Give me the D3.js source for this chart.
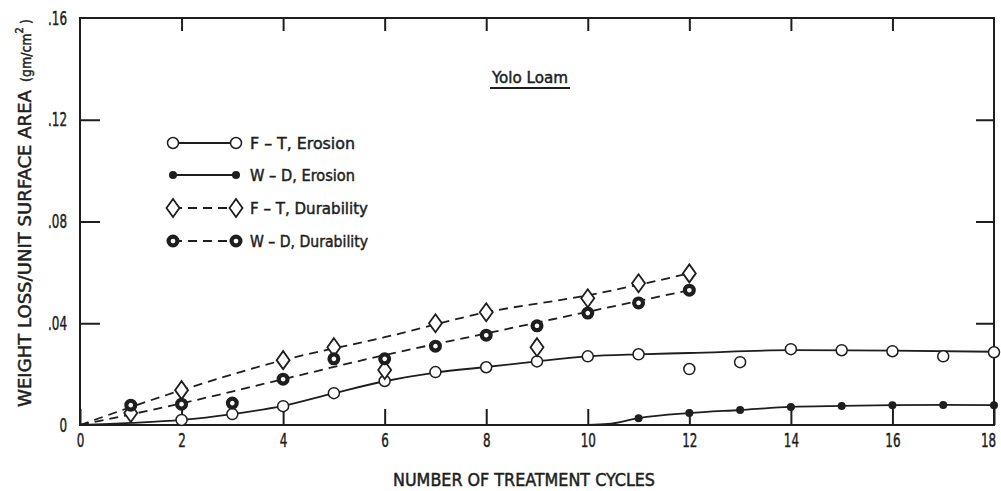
<!DOCTYPE html>
<html>
<head>
<meta charset="utf-8">
<script src="https://cdn.jsdelivr.net/npm/d3@7"></script>
<style>
  body { margin: 0; background: #fff; }
  text { font-family: "DejaVu Sans Condensed", "DejaVu Sans", sans-serif; font-stretch: condensed; fill: #1e1e1e; stroke: #1e1e1e; stroke-width: 0.45px; }
</style>
</head>
<body>
<div id="chart"></div>
<script>
// values
const ftErosionX = [2, 3, 4, 5, 6, 7, 8, 9, 10, 11, 12, 13, 14, 15, 16, 17, 18]
const ftErosion = [0.002, 0.0043, 0.0074, 0.0125, 0.0173, 0.0208, 0.0227, 0.025, 0.027, 0.0278, 0.022, 0.0247, 0.0298, 0.0294, 0.029, 0.027, 0.0286]
// smooth curve drawn through them
const ftErosionFitX = [0, 1, 2, 3, 4, 5, 6, 7, 8, 9, 10, 11, 12, 14, 16, 18]
const ftErosionFit = [0, 0.0008, 0.002, 0.0043, 0.0075, 0.0125, 0.0172, 0.0206, 0.0228, 0.025, 0.027, 0.0278, 0.0283, 0.0294, 0.0292, 0.0288]

const wdErosionX = [11, 12, 13, 14, 15, 16, 17, 18]
const wdErosion = [0.0027, 0.0047, 0.0059, 0.0071, 0.0075, 0.0078, 0.0079, 0.0078]
const wdErosionFitX = [10, 10.4, 11, 12, 13, 14, 15, 16, 17, 18]
const wdErosionFit = [0, 0.0004, 0.0027, 0.0047, 0.0059, 0.0071, 0.0075, 0.0078, 0.0079, 0.0078]

const ftDurabilityX = [1, 2, 4, 5, 6, 7, 8, 9, 10, 11, 12]
const ftDurability = [0.0047, 0.0137, 0.0255, 0.0306, 0.0216, 0.040, 0.0443, 0.0306, 0.0498, 0.0557, 0.0596]
const ftDurabilityFitX = [0, 2, 4, 6, 8, 10, 12]
const ftDurabilityFit = [0, 0.0137, 0.0255, 0.0345, 0.0443, 0.051, 0.0596]

const wdDurabilityX = [1, 2, 3, 4, 5, 6, 7, 8, 9, 10, 11, 12]
const wdDurability = [0.0078, 0.0082, 0.0086, 0.018, 0.026, 0.026, 0.031, 0.0353, 0.039, 0.044, 0.048, 0.053]
const wdDurabilityFitX = [0, 2, 4, 6, 8, 10, 12]
const wdDurabilityFit = [0, 0.0085, 0.018, 0.0275, 0.036, 0.0445, 0.053]

const xTicks = [0, 2, 4, 6, 8, 10, 12, 14, 16, 18]
const yTicks = [0, 0.04, 0.08, 0.12, 0.16]
const yTickLabels = ["0", ".04", ".08", ".12", ".16"]
const legendLabels = ["F \u2013 T,  Erosion", "W \u2013 D,  Erosion", "F \u2013 T,  Durability", "W \u2013 D,  Durability"]

const W = 1001, H = 491
const LEFT = 80, RIGHT = 994, TOP = 18, BOTTOM = 425
const INK = "#1e1e1e"

const svg = d3.select("#chart").append("svg")
  .attr("width", W).attr("height", H)

svg.append("rect").attr("width", W).attr("height", H).attr("fill", "#fff")

const x = d3.scaleLinear().domain([0, 18]).range([LEFT, RIGHT])
const y = d3.scaleLinear().domain([0, 0.16]).range([BOTTOM, TOP])

// axes, ticks pointing inward
function styleAxis(g) {
  g.select(".domain").remove()
  g.selectAll(".tick line").attr("stroke", INK).attr("stroke-width", 2)
}

// narrow tick digits like the original lettering
svg.append("g").attr("transform", `translate(0,${BOTTOM})`)
  .call(d3.axisBottom(x).tickValues(xTicks).tickSize(-16).tickPadding(9).tickFormat(d3.format("d")))
  .call(styleAxis)
  .call(g => g.selectAll("text").attr("font-size", 19).attr("fill", INK)
    .attr("transform", d => `translate(${d === 18 ? -6 : 0},0) scale(0.7,1)`))

svg.append("g").attr("transform", `translate(0,${TOP})`)
  .call(d3.axisTop(x).tickValues(xTicks.slice(1, -1)).tickSize(-13).tickFormat(""))
  .call(styleAxis)

svg.append("g").attr("transform", `translate(${LEFT},0)`)
  .call(d3.axisLeft(y).tickValues(yTicks).tickSize(-20).tickPadding(14).tickFormat((d, i) => yTickLabels[i]))
  .call(styleAxis)
  .call(g => g.selectAll("text").attr("font-size", 19).attr("fill", INK)
    .attr("x", 0).attr("transform", "translate(-13,0) scale(0.7,1)"))
  .call(g => g.selectAll(".tick").filter(d => d === 0 || d === 0.16).select("line").remove())

svg.append("g").attr("transform", `translate(${RIGHT},0)`)
  .call(d3.axisRight(y).tickValues(yTicks.slice(1, -1)).tickSize(-18).tickFormat(""))
  .call(styleAxis)

// frame
svg.append("rect")
  .attr("x", LEFT).attr("y", TOP)
  .attr("width", RIGHT - LEFT).attr("height", BOTTOM - TOP)
  .attr("fill", "none").attr("stroke", INK).attr("stroke-width", 2)

// axis titles
svg.append("text")
  .attr("x", 524).attr("y", 486)
  .attr("text-anchor", "middle")
  .attr("font-size", 17)
  .attr("textLength", 262).attr("lengthAdjust", "spacingAndGlyphs")
  .text("NUMBER OF TREATMENT CYCLES")

const yTitle = svg.append("text")
  .attr("transform", "translate(31,407) rotate(-90)")
  .attr("font-size", 17)
yTitle.append("tspan").text("WEIGHT LOSS/UNIT SURFACE AREA")
  .attr("textLength", 317).attr("lengthAdjust", "spacingAndGlyphs")
yTitle.append("tspan").text("(gm/cm").attr("font-size", 14).attr("dx", 8)
yTitle.append("tspan").text("2").attr("font-size", 11).attr("dy", -8)
yTitle.append("tspan").text(")").attr("font-size", 14).attr("dy", 8).attr("dx", 3)

// title
svg.append("text")
  .attr("x", 530).attr("y", 83)
  .attr("text-anchor", "middle")
  .attr("font-size", 16)
  .attr("textLength", 76).attr("lengthAdjust", "spacingAndGlyphs")
  .text("Yolo Loam")
svg.append("line")
  .attr("x1", 490).attr("x2", 570).attr("y1", 88).attr("y2", 88)
  .attr("stroke", INK).attr("stroke-width", 2)

// lines
const toPts = (xs, ys) => xs.map((d, i) => [d, ys[i]])
const line = d3.line().x(d => x(d[0])).y(d => y(d[1])).curve(d3.curveMonotoneX)

const plot = svg.append("g")

plot.append("path").datum(toPts(ftErosionFitX, ftErosionFit))
  .attr("d", line).attr("fill", "none").attr("stroke", INK).attr("stroke-width", 1.8)
plot.append("path").datum(toPts(wdErosionFitX, wdErosionFit))
  .attr("d", line).attr("fill", "none").attr("stroke", INK).attr("stroke-width", 1.8)
plot.append("path").datum(toPts(ftDurabilityFitX, ftDurabilityFit))
  .attr("d", line).attr("fill", "none").attr("stroke", INK).attr("stroke-width", 1.8)
  .attr("stroke-dasharray", "9,6")
plot.append("path").datum(toPts(wdDurabilityFitX, wdDurabilityFit))
  .attr("d", line).attr("fill", "none").attr("stroke", INK).attr("stroke-width", 1.8)
  .attr("stroke-dasharray", "9,6")

// marker painters
function openCircle(g) {
  g.append("circle").attr("r", 5.5).attr("fill", "#fff").attr("stroke", INK).attr("stroke-width", 1.5)
}
function dot(g) {
  g.append("circle").attr("r", 4).attr("fill", INK)
}
function diamond(g) {
  g.append("path").attr("d", "M0,-9L6.5,0L0,9L-6.5,0Z")
    .attr("fill", "#fff").attr("stroke", INK).attr("stroke-width", 1.8)
}
function bullseye(g) {
  g.append("circle").attr("r", 4.4).attr("fill", "#fff").attr("stroke", INK).attr("stroke-width", 4.2)
}

function markers(xs, ys, painter) {
  plot.append("g").selectAll("g")
    .data(toPts(xs, ys))
    .join("g")
    .attr("transform", d => `translate(${x(d[0])},${y(d[1])})`)
    .each(function () { painter(d3.select(this)) })
}

markers(ftErosionX, ftErosion, openCircle)
markers(wdErosionX, wdErosion, dot)
markers(ftDurabilityX, ftDurability, diamond)
markers(wdDurabilityX, wdDurability, bullseye)

// legend
const painters = [openCircle, dot, diamond, bullseye]
const dashes = [null, null, "9,6", "9,6"]
const legendY = [143, 175, 208, 241]
const legendWidths = [105, 105, 118, 118]

legendLabels.forEach((lab, i) => {
  const g = svg.append("g").attr("transform", `translate(173,${legendY[i]})`)
  g.append("line").attr("x1", 0).attr("x2", 63)
    .attr("stroke", INK).attr("stroke-width", 1.8)
    .attr("stroke-dasharray", dashes[i])
  painters[i](g.append("g"))
  painters[i](g.append("g").attr("transform", "translate(63,0)"))
  g.append("text").attr("x", 77).attr("y", 6)
    .attr("font-size", 16)
    .attr("textLength", legendWidths[i]).attr("lengthAdjust", "spacingAndGlyphs")
    .text(lab)
})
</script>
</body>
</html>
